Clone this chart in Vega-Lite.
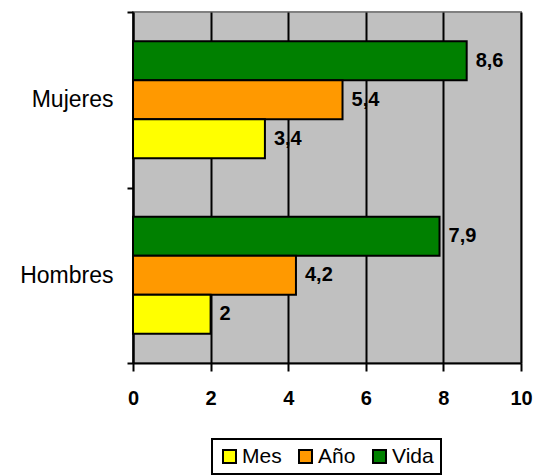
{
  "$schema": "https://vega.github.io/schema/vega-lite/v6.json",
  "width": 388,
  "height": 351,
  "autosize": {"type": "none"},
  "padding": {"left": 133, "top": 12, "right": 18, "bottom": 112},
  "background": "white",
  "data": {
    "values": [
      {"grupo": "Mujeres", "periodo": "Vida", "valor": 8.6},
      {"grupo": "Mujeres", "periodo": "Año", "valor": 5.4},
      {"grupo": "Mujeres", "periodo": "Mes", "valor": 3.4},
      {"grupo": "Hombres", "periodo": "Vida", "valor": 7.9},
      {"grupo": "Hombres", "periodo": "Año", "valor": 4.2},
      {"grupo": "Hombres", "periodo": "Mes", "valor": 2}
    ]
  },
  "encoding": {
    "y": {
      "field": "grupo",
      "type": "nominal",
      "sort": ["Mujeres", "Hombres"],
      "scale": {"paddingInner": 0, "paddingOuter": 0},
      "axis": {
        "title": null,
        "tickBand": "extent",
        "domainColor": "black",
        "domainWidth": 2,
        "tickColor": "black",
        "tickWidth": 2,
        "tickSize": 6,
        "labelPadding": 14,
        "labelFont": "Liberation Sans",
        "labelFontSize": 23,
        "labelColor": "black",
        "grid": false
      }
    },
    "yOffset": {
      "field": "periodo",
      "type": "nominal",
      "sort": ["Vida", "Año", "Mes"],
      "scale": {"paddingInner": 0, "paddingOuter": 0.75}
    },
    "x": {
      "field": "valor",
      "type": "quantitative",
      "scale": {"domain": [0, 10], "nice": false},
      "axis": {
        "title": null,
        "tickCount": 5,
        "format": "d",
        "grid": true,
        "gridColor": "black",
        "gridWidth": 2,
        "gridOpacity": 1,
        "domainColor": "black",
        "domainWidth": 2,
        "tickColor": "black",
        "tickWidth": 2,
        "tickSize": 8,
        "labelPadding": 17,
        "labelFont": "Liberation Sans",
        "labelFontSize": 20,
        "labelFontWeight": "bold",
        "labelColor": "black",
        "labelFlush": false
      }
    }
  },
  "layer": [
    {
      "mark": {"type": "bar", "stroke": "black", "strokeWidth": 2},
      "encoding": {
        "color": {
          "field": "periodo",
          "type": "nominal",
          "scale": {"domain": ["Mes", "Año", "Vida"], "range": ["#FFFF00", "#FF9900", "#008000"]},
          "legend": {
            "title": null,
            "orient": "none",
            "direction": "horizontal",
            "legendX": 79,
            "legendY": 427,
            "symbolType": "square",
            "symbolSize": 169,
            "symbolStrokeColor": "black",
            "symbolStrokeWidth": 2,
            "symbolOpacity": 1,
            "labelFont": "Liberation Sans",
            "labelFontSize": 21,
            "labelColor": "black",
            "labelOffset": 2,
            "columnPadding": 13,
            "padding": 7,
            "strokeColor": "black"
          }
        }
      }
    },
    {
      "mark": {
        "type": "text",
        "align": "left",
        "baseline": "middle",
        "dx": 9,
        "font": "Liberation Sans",
        "fontSize": 20,
        "fontWeight": "bold",
        "color": "black",
        "text": {"expr": "replace(format(datum.valor, '~g'), '.', ',')"}
      }
    }
  ],
  "config": {
    "view": {"fill": "#C0C0C0", "stroke": "#808080", "strokeWidth": 2},
    "legend": {"strokeWidth": 2}
  }
}
